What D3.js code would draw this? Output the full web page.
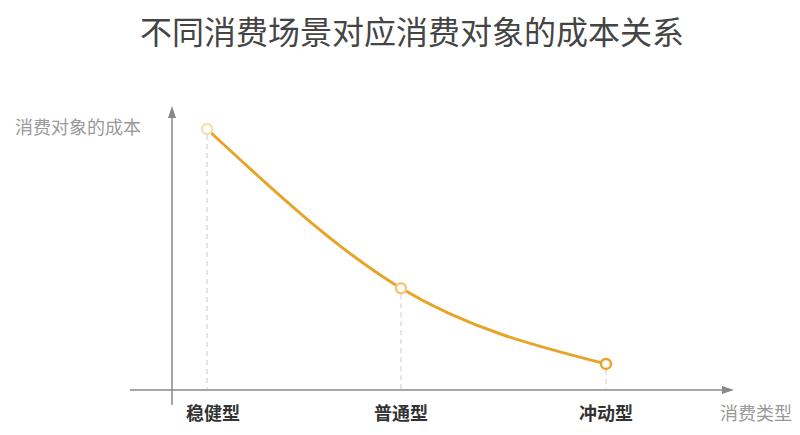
<!DOCTYPE html>
<html><head><meta charset="utf-8">
<script src="https://cdn.jsdelivr.net/npm/d3@7"></script>
<style>body{margin:0;background:#fff}svg{font-family:"Noto Sans CJK SC",sans-serif}</style>
</head><body><svg id="c" width="800" height="435"></svg>
<script>
const categories = ["稳健型","普通型","冲动型"];
const costValues = [100, 39, 10];
const pointStrokes = ["#f8dfb2","#f4c77d","#e8a427"];
const title = "不同消费场景对应消费对象的成本关系";
const yLabel = "消费对象的成本";
const xLabel = "消费类型";

const svg = d3.select("#c");
const xi = d3.scaleLinear().domain([0,1,2]).range([207, 401, 606]);
const x = d => xi(categories.indexOf(d));
const y = d3.scaleLinear().domain([0, 100]).range([390, 129]);

svg.append("text").attr("x", 412).attr("y", 44).attr("text-anchor","middle")
  .attr("font-size", 32).attr("fill","#444").text(title);

const axisColor = "#888";
svg.append("line").attr("x1",130).attr("x2",728).attr("y1",390).attr("y2",390).attr("stroke",axisColor).attr("stroke-width",1.5);
svg.append("path").attr("d","M722,386 L734,390 L722,394 Z").attr("fill",axisColor);
svg.append("line").attr("x1",172).attr("x2",172).attr("y1",112).attr("y2",405).attr("stroke",axisColor).attr("stroke-width",1.5);
svg.append("path").attr("d","M168,118 L172,106 L176,118 Z").attr("fill",axisColor);

svg.append("text").attr("x",15).attr("y",134).attr("font-size",18).attr("fill","#999").text(yLabel);
svg.append("text").attr("x",720).attr("y",420).attr("font-size",18).attr("fill","#999").text(xLabel);

svg.selectAll(".drop").data(categories).enter().append("line")
  .attr("x1",d=>x(d)).attr("x2",d=>x(d))
  .attr("y1",(d,i)=>y(costValues[i])+6).attr("y2",389)
  .attr("stroke","#ccc").attr("stroke-dasharray","5,4");

const pts = categories.map((c,i)=>[x(c), y(costValues[i])]);
svg.append("path").attr("d", d3.line().curve(d3.curveMonotoneX)(pts))
  .attr("fill","none").attr("stroke","#e8a427").attr("stroke-width",3);

svg.selectAll(".pt").data(pts).enter().append("circle")
  .attr("cx",d=>d[0]).attr("cy",d=>d[1]).attr("r",5)
  .attr("fill","#fff").attr("stroke",(d,i)=>pointStrokes[i]).attr("stroke-width",2.5);

svg.selectAll(".cat").data(categories).enter().append("text")
  .attr("x",(d,i)=>x(d)+(i===0?6:0)).attr("y",420).attr("text-anchor","middle")
  .attr("font-size",18).attr("font-weight","bold").attr("fill","#333").text(d=>d);
</script></body></html>
